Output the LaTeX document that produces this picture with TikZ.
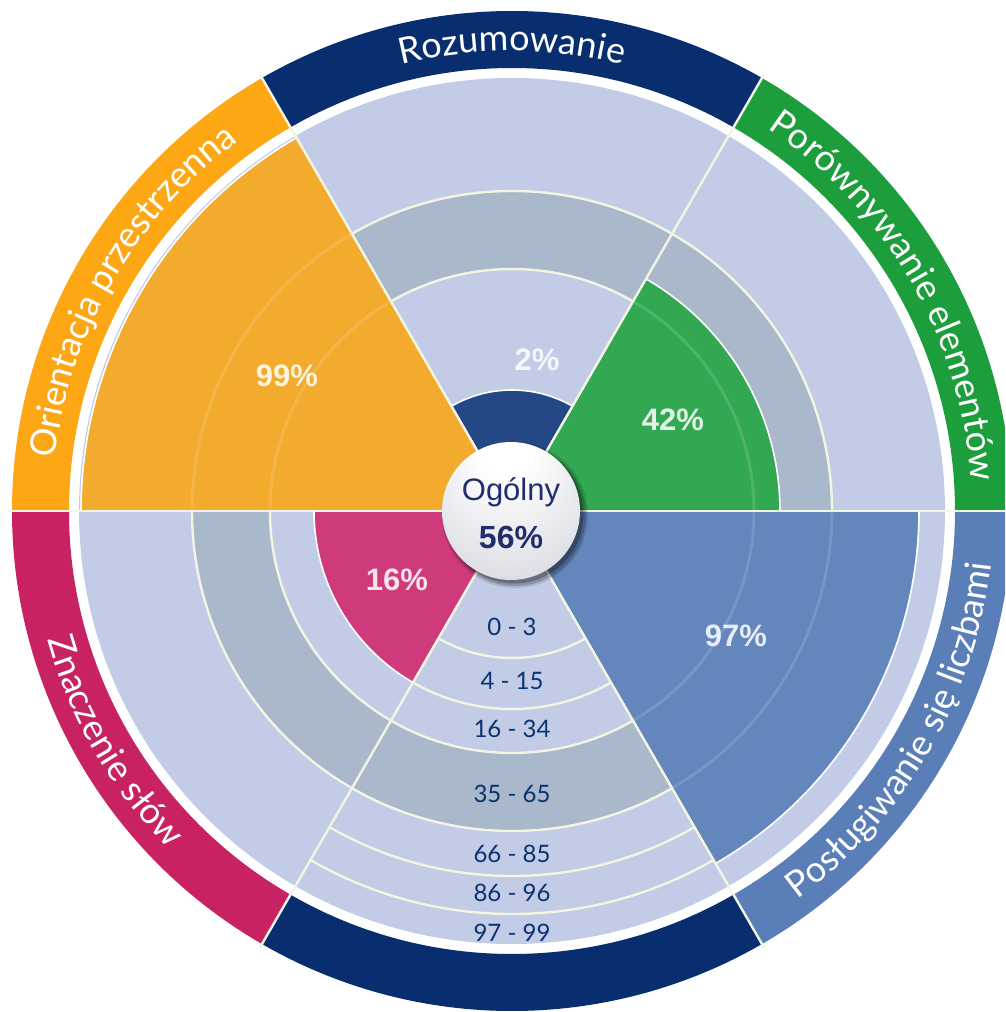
\documentclass[tikz,border=0pt]{standalone}
\usepackage{fontspec}
\setmainfont{Liberation Sans}
\newfontfamily\gillf{Lato}
\newfontfamily\arialf{Liberation Sans}
\usetikzlibrary{decorations.text}

\definecolor{lav}{HTML}{C2CCE6}
\definecolor{greyband}{HTML}{A9B8CA}
\definecolor{cream}{HTML}{F1F5E2}
\definecolor{navyband}{HTML}{082E70}
\definecolor{navywedge}{HTML}{244886}
\definecolor{greenband}{HTML}{1B9E3B}
\definecolor{greenwedge}{HTML}{33A853}
\definecolor{blueband}{HTML}{5A7FB8}
\definecolor{bluewedge}{HTML}{6386BD}
\definecolor{magband}{HTML}{C92263}
\definecolor{magwedge}{HTML}{CE3A7A}
\definecolor{orband}{HTML}{FCA713}
\definecolor{orwedge}{HTML}{F3AB2D}
\definecolor{lblnavy}{HTML}{0B3272}
\definecolor{ballnavy}{HTML}{212D6C}
\definecolor{ballmid}{HTML}{DEDFE5}
\definecolor{balledge}{HTML}{B8B9BF}

\pgfdeclareradialshading{orb}{\pgfpoint{-3bp}{30bp}}{color(0bp)=(white); color(10bp)=(white); color(34bp)=(ballmid); color(50bp)=(balledge)}

\newcommand\ringseg[5]{\fill[#1] (#2:#4pt) arc[start angle=#2,end angle=#3,radius=#4pt] -- (#3:#5pt) arc[start angle=#3,end angle=#2,radius=#5pt] -- cycle;}
\newcommand\pieslice[4]{\filldraw[fill=#1,draw=white,line width=1.6pt] (0,0) -- (#2:#4pt) arc[start angle=#2,end angle=#3,radius=#4pt] -- cycle;}
\newcommand\creamarc[3]{\draw[cream,line width=2.4pt] (#1:#3pt) arc[start angle=#1,end angle=#2,radius=#3pt];}
\newcommand\faintarc[3]{\draw[white,opacity=0.13,line width=3pt] (#1:#3pt) arc[start angle=#1,end angle=#2,radius=#3pt];}

\tikzset{
  bandtext/.style={decorate,decoration={text along path,text align=center,text color=white,
     text={|\gillf\fontsize{36}{40}\selectfont|#1}}},
  pct/.style={text=white,text opacity=0.86,font=\arialf\bfseries\fontsize{31}{36}\selectfont,inner sep=0pt},
  scl/.style={text=lblnavy,font=\gillf\fontsize{24}{27}\selectfont,inner sep=0pt},
}

\begin{document}
\begin{tikzpicture}
\useasboundingbox (-512pt,-501pt) rectangle (493pt,511pt);
\clip (-512pt,-501pt) rectangle (493pt,511pt);

% outer band
\ringseg{greenband}{0}{60}{443}{500}
\ringseg{navyband}{60}{120}{443}{500}
\ringseg{orband}{120}{180}{443}{500}
\ringseg{magband}{180}{240}{443}{500}
\ringseg{navyband}{240}{300}{443}{500}
\ringseg{blueband}{300}{360}{443}{500}

% background disk and grey band
\fill[lav] (0,0) circle[radius=433pt];
\fill[greyband,even odd rule] (0,0) circle[radius=320pt] (0,0) circle[radius=242pt];
\draw[cream,line width=2.4pt] (0,0) circle[radius=242pt];
\draw[cream,line width=2.4pt] (0,0) circle[radius=320pt];

% scale arcs in the bottom sector
\creamarc{240}{300}{147}
\creamarc{240}{300}{198}
\creamarc{240}{300}{365}
\creamarc{240}{300}{403}

% value wedges
\pieslice{greenwedge}{0}{60}{268}
\pieslice{navywedge}{60}{120}{121}
\pieslice{orwedge}{120}{180}{431}
\pieslice{magwedge}{180}{240}{198}
\pieslice{bluewedge}{300}{360}{407}

% faint ring lines through wedges
\faintarc{0}{60}{242}
\faintarc{120}{180}{242}
\faintarc{120}{180}{320}
\faintarc{300}{360}{242}
\faintarc{300}{360}{320}

% radial separators
\foreach \a in {0,60,...,300}
  \draw[cream,line width=2.4pt] (0,0) -- (\a:504pt);

% band labels
\path[bandtext={Rozumowanie}] (120:460pt) arc[start angle=120,end angle=60,radius=460pt];
\path[bandtext={Porównywanie elementów}] (60:460pt) arc[start angle=60,end angle=0,radius=460pt];
\path[bandtext={Orientacja przestrzenna}] (180:460pt) arc[start angle=180,end angle=120,radius=460pt];
\path[bandtext={Posługiwanie się liczbami}] (300:482pt) arc[start angle=300,end angle=360,radius=482pt];
\path[bandtext={Znaczenie słów}] (180:482pt) arc[start angle=180,end angle=240,radius=482pt];

% scale labels
\node[scl] (s1) at (270:116pt) {0 - 3};
\node[scl] (s2) at (270:170pt) {4 - 15};
\node[scl] (s3) at (270:218pt) {16 - 34};
\node[scl] (s4) at (270:283pt) {35 - 65};
\node[scl] (s5) at (270:343pt) {66 - 85};
\node[scl] (s6) at (270:382pt) {86 - 96};
\node[scl] (s7) at (270:422pt) {97 - 99};

% percentage labels
\node[pct] (p1) at (25pt,151pt) {2\%};
\node[pct] (p2) at (161pt,91pt) {42\%};
\node[pct] (p3) at (224pt,-125pt) {97\%};
\node[pct] (p4) at (-115pt,-69pt) {16\%};
\node[pct] (p5) at (-225pt,135pt) {99\%};

% central ball
\fill[black,opacity=0.12] (3pt,-4pt) circle[radius=73pt];
\fill[black,opacity=0.18] (3pt,-4pt) circle[radius=71pt];
\fill[black,opacity=0.25] (2pt,-3pt) circle[radius=69.5pt];
\shade[shading=orb] (-1pt,0pt) circle[radius=69pt];
\node[text=ballnavy,font=\arialf\fontsize{31}{35}\selectfont,inner sep=0pt] (og) at (-1pt,19pt) {Ogólny};
\node[text=ballnavy,font=\arialf\bfseries\fontsize{32}{36}\selectfont,inner sep=0pt] (ov) at (-1pt,-26pt) {56\%};
\end{tikzpicture}
\end{document}
